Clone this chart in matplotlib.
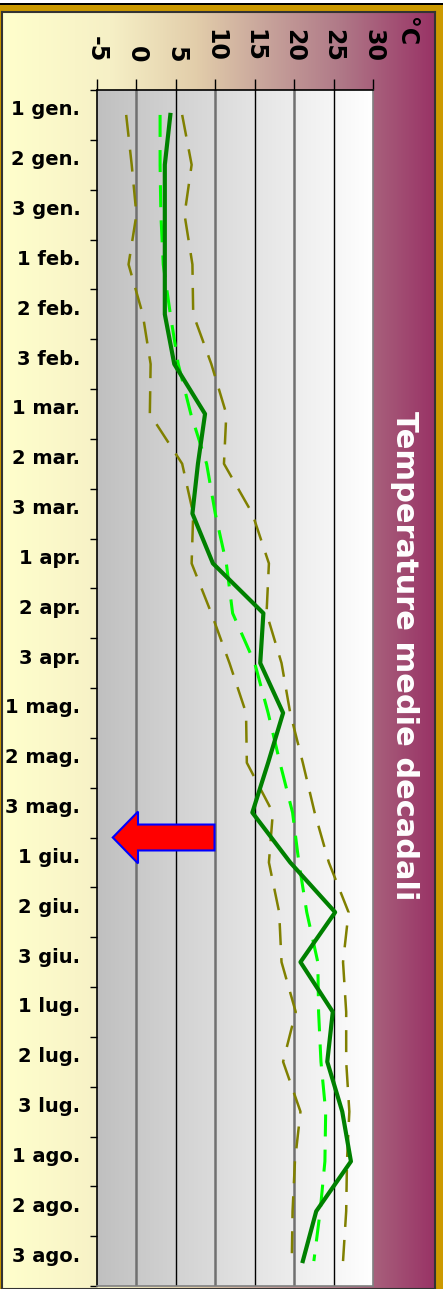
import numpy as np
import matplotlib.pyplot as plt
from matplotlib.colors import LinearSegmentedColormap
from matplotlib.patches import FancyArrow, Rectangle
from matplotlib.transforms import ScaledTranslation

# decadi (categorie) e temperature
decadi = ['1 gen.', '2 gen.', '3 gen.', '1 feb.', '2 feb.', '3 feb.',
          '1 mar.', '2 mar.', '3 mar.', '1 apr.', '2 apr.', '3 apr.',
          '1 mag.', '2 mag.', '3 mag.', '1 giu.', '2 giu.', '3 giu.',
          '1 lug.', '2 lug.', '3 lug.', '1 ago.', '2 ago.', '3 ago.']

t_anno = [4.3, 3.6, 3.6, 3.6, 3.6, 4.8, 8.7, 7.8, 7.1, 9.7, 16.1, 15.7,
          18.6, 16.7, 14.7, 19.5, 25.2, 20.8, 24.9, 24.2, 26.1, 27.2, 22.8, 21.1]
t_media = [3.0, 3.0, 3.1, 3.4, 4.3, 5.3, 6.9, 8.9, 10.0, 11.4, 12.2, 15.0,
           16.7, 18.2, 19.8, 20.6, 21.6, 23.0, 23.1, 23.4, 24.0, 23.9, 23.3, 22.5]
t_min = [-1.3, -0.6, 0.0, -1.0, 0.8, 1.8, 1.7, 5.8, 7.2, 7.0, 9.5, 11.8,
         13.9, 14.0, 17.3, 16.8, 18.1, 18.4, 20.2, 18.6, 20.8, 20.1, 19.8, 19.7]
t_max = [5.8, 7.0, 6.1, 7.1, 7.2, 9.5, 11.4, 11.1, 14.7, 16.8, 16.5, 18.4,
         19.5, 21.1, 22.6, 24.4, 26.9, 26.2, 26.6, 26.6, 27.0, 26.7, 26.6, 26.2]

x_ticks = [-5, 0, 5, 10, 15, 20, 25, 30]

W, H = 443, 1289
fig = plt.figure(figsize=(W / 100, H / 100), dpi=100)
fig.patch.set_facecolor('#CC9900')

# striscia bianca + linea nera in alto
fig.add_artist(Rectangle((0, 1 - 2.7 / H), 1, 2.7 / H, transform=fig.transFigure,
                         color='white', lw=0))
fig.add_artist(Rectangle((0, 1 - 4.7 / H), 1, 2.0 / H, transform=fig.transFigure,
                         color='black', lw=0))

# sfondo sfumato giallo -> viola
bg = fig.add_axes([2 / W, 0, 433 / W, (H - 11.5) / H])
bg_cmap = LinearSegmentedColormap.from_list(
    'bg', [(0.0, '#FFFFCC'), (0.25, '#F6F0C6'), (0.45, '#E2CDAA'),
           (0.6, '#C9A69C'), (0.78, '#B07A88'), (1.0, '#993366')])
bg.imshow(np.linspace(0, 1, 256).reshape(1, -1), aspect='auto', cmap=bg_cmap,
          extent=(0, 1, 0, 1))
bg.set_xticks([])
bg.set_yticks([])
for s in bg.spines.values():
    s.set_color('#333333')
    s.set_linewidth(1.5)

ax = fig.add_axes([97 / W, 3 / H, 276 / W, 1196 / H])
y = np.arange(len(decadi))

# sfondo area del grafico grigio -> bianco
plot_cmap = LinearSegmentedColormap.from_list('pa', ['#C0C0C0', '#FFFFFF'])
ax.imshow(np.linspace(0, 1, 256).reshape(1, -1), aspect='auto', cmap=plot_cmap,
          extent=(-5, 30, len(decadi) - 0.5, -0.5), zorder=0)

for xv in x_ticks[1:-1]:
    if xv % 10 == 0:
        ax.axvline(xv, color='#707070', lw=1.8, zorder=1)
    else:
        ax.axvline(xv, color='black', lw=1.0, zorder=1)

ax.plot(t_min, y, color='#808000', lw=1.8, dashes=(8.8, 5.2),
        dash_capstyle='butt', zorder=3)
ax.plot(t_max, y, color='#808000', lw=1.8, dashes=(8.8, 5.2),
        dash_capstyle='butt', zorder=3)
ax.plot(t_media, y, color='#00FF00', lw=2.2, dashes=(7.2, 4.3),
        dash_capstyle='butt', zorder=4)
ax.plot(t_anno, y, color='#008000', lw=3.0, zorder=5)

# freccia rossa
ax.add_patch(FancyArrow(9.9, 14.5, -12.9, 0, width=0.52, head_width=1.04,
                        head_length=3.2, length_includes_head=True,
                        fc='red', ec='blue', lw=1.5, zorder=6))

ax.set_xlim(-5, 30)
ax.set_ylim(len(decadi) - 0.5, -0.5)

ax.xaxis.tick_top()
ax.set_xticks(x_ticks)
ax.set_xticklabels([str(v) for v in x_ticks], rotation=-90,
                   fontsize=17, fontweight='bold')
ax.tick_params(axis='x', direction='out', length=8, width=1, pad=12, color='black')

ax.set_yticks(y)
ax.set_yticklabels(decadi, fontsize=14, fontweight='bold')
ax.set_yticks(np.arange(-0.5, len(decadi)), minor=True)
ax.tick_params(axis='y', which='major', length=0, pad=12)
ax.tick_params(axis='y', which='minor', direction='out', length=5, width=1, color='black')
off = ScaledTranslation(0, 5 / 72, fig.dpi_scale_trans)
for lab in ax.get_yticklabels():
    lab.set_transform(lab.get_transform() + off)

ax.spines['top'].set_color('black')
ax.spines['left'].set_color('black')
ax.spines['right'].set_color('#808080')
ax.spines['bottom'].set_color('#808080')
for s in ax.spines.values():
    s.set_linewidth(1.2)

fig.text(406 / W, 1 - 17 / H, '°C', rotation=-90, fontsize=17, fontweight='bold',
         ha='center', va='top')
fig.text(404 / W, 1 - 656 / H, 'Temperature medie decadali', rotation=-90,
         fontsize=22, fontweight='bold', color='white', ha='center', va='center')

fig.savefig('out.png', dpi=100, facecolor=fig.get_facecolor())
